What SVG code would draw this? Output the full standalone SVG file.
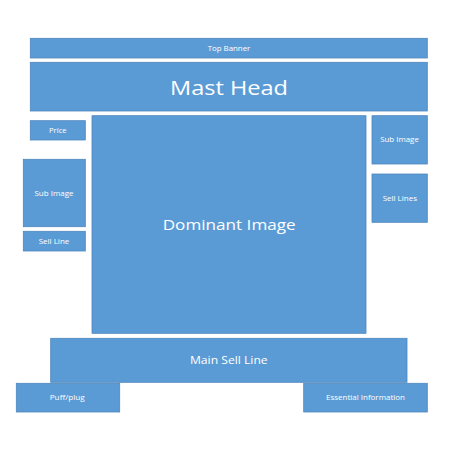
<svg xmlns="http://www.w3.org/2000/svg" width="452" height="452" viewBox="0 0 452 452">
<style>
.box{fill:#5B9BD5;stroke:#4F86BD;stroke-width:0.8}
.t{fill:#FFFFFF;font-family:"Open Sans","Liberation Sans",sans-serif;text-anchor:middle}
.s{font-size:7px}
</style>
<rect width="452" height="452" fill="#FFFFFF"/>
<g id="top-banner"><rect class="box" x="30.3" y="38.3" width="397" height="19.7"/><text class="t s" x="229" y="50.5" textLength="42.7" lengthAdjust="spacingAndGlyphs">Top Banner</text></g>
<g id="mast-head"><rect class="box" x="30.3" y="62.3" width="397" height="48.7"/><text class="t" x="229" y="95.3" font-size="20" textLength="118" lengthAdjust="spacingAndGlyphs">Mast Head</text></g>
<g id="price"><rect class="box" x="30.3" y="120.7" width="55" height="19.3"/><text class="t s" x="57.8" y="133" textLength="17.7" lengthAdjust="spacingAndGlyphs">Price</text></g>
<g id="dominant-image"><rect class="box" x="92" y="115.7" width="274" height="217.6"/><text class="t" x="229.2" y="230" font-size="14" textLength="133" lengthAdjust="spacingAndGlyphs">Dominant Image</text></g>
<g id="sub-image-right"><rect class="box" x="372" y="115.7" width="55.3" height="48.3"/><text class="t s" x="399.5" y="142" textLength="38.7" lengthAdjust="spacingAndGlyphs">Sub Image</text></g>
<g id="sell-lines"><rect class="box" x="372" y="174" width="55.3" height="48.3"/><text class="t s" x="399.8" y="201" textLength="34.3" lengthAdjust="spacingAndGlyphs">Sell Lines</text></g>
<g id="sub-image-left"><rect class="box" x="23.3" y="159.3" width="62" height="67.4"/><text class="t s" x="54" y="196" textLength="39" lengthAdjust="spacingAndGlyphs">Sub Image</text></g>
<g id="sell-line"><rect class="box" x="23.3" y="231.3" width="62" height="19.7"/><text class="t s" x="54" y="244" textLength="30.7" lengthAdjust="spacingAndGlyphs">Sell Line</text></g>
<g id="main-sell-line"><rect class="box" x="50.7" y="338.3" width="356.3" height="44"/><text class="t" x="228.8" y="364.3" font-size="10" textLength="77.7" lengthAdjust="spacingAndGlyphs">Main Sell Line</text></g>
<g id="puff-plug"><rect class="box" x="16.3" y="383.3" width="103.4" height="28.7"/><text class="t s" x="67.2" y="400.3" textLength="35" lengthAdjust="spacingAndGlyphs">Puff/plug</text></g>
<g id="essential-information"><rect class="box" x="303.7" y="383.3" width="123.6" height="28.7"/><text class="t s" x="365.5" y="400.3" textLength="79" lengthAdjust="spacingAndGlyphs">Essential Information</text></g>
<g id="connectors"/>
</svg>
